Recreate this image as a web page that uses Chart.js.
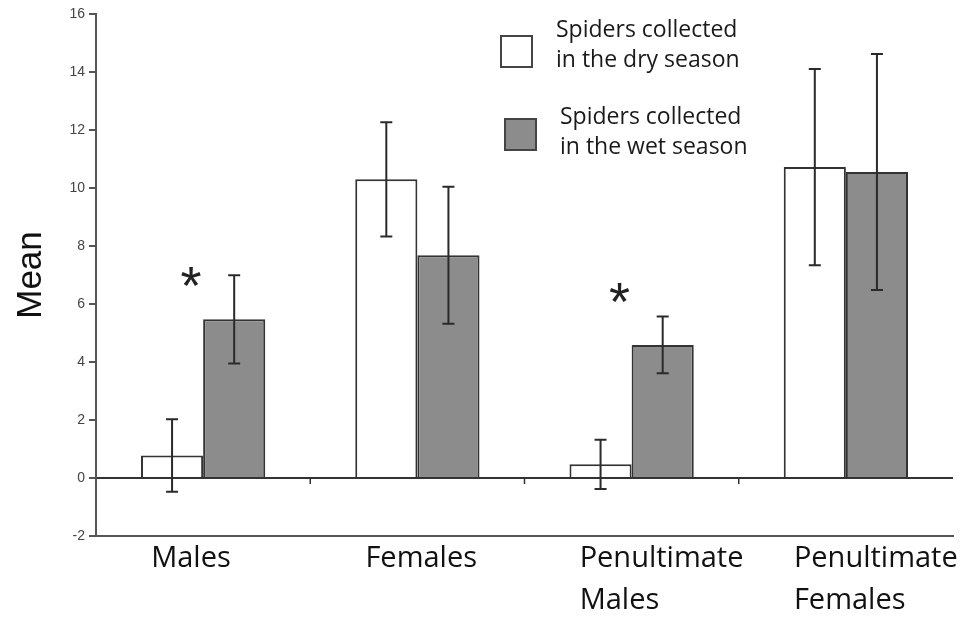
<!DOCTYPE html>
<html>
<head>
<meta charset="utf-8">
<script src="https://cdn.jsdelivr.net/npm/chart.js@4"></script>
<style>
  html, body { margin: 0; padding: 0; background: #fff; }
  canvas { display: block; }
</style>
</head>
<body>
<canvas id="spider_chart" width="965" height="633"></canvas>
<script>
// categories and series
const categories = ['Males', 'Females', ['Penultimate', 'Males'], ['Penultimate', 'Females']];
const dryMeans = [0.78, 10.3, 0.47, 10.72];
const dryErrors = [1.25, 1.97, 0.85, 3.38];
const wetMeans = [5.47, 7.68, 4.59, 10.55];
const wetErrors = [1.52, 2.36, 0.98, 4.07];
// asterisks (significant differences), value = height on the y scale
const sigMarks = [6.85, null, 6.3, null];
const yTicks = [-2, 0, 2, 4, 6, 8, 10, 12, 14, 16];

const dryLabel = ['Spiders collected', 'in the dry season'];
const wetLabel = ['Spiders collected', 'in the wet season'];

const WET_GREY = '#8c8c8c';
const INK = '#333333';

/** error bars drawn from the data arrays, through the y scale */
const errorBars = {
  id: 'errorBars',
  afterDatasetsDraw(chart) {
    const ctx = chart.ctx;
    const y = chart.scales.y;
    const errs = [dryErrors, wetErrors];
    ctx.save();
    ctx.strokeStyle = '#2a2a2a';
    ctx.lineWidth = 2;
    chart.data.datasets.forEach(function(ds, di) {
      const meta = chart.getDatasetMeta(di);
      meta.data.forEach(function(bar, i) {
        const v = ds.data[i], e = errs[di][i];
        const top = y.getPixelForValue(v + e);
        const bot = y.getPixelForValue(v - e);
        ctx.beginPath();
        ctx.moveTo(bar.x, top); ctx.lineTo(bar.x, bot);
        ctx.moveTo(bar.x - 6, top); ctx.lineTo(bar.x + 6, top);
        ctx.moveTo(bar.x - 6, bot); ctx.lineTo(bar.x + 6, bot);
        ctx.stroke();
      });
    });
    ctx.restore();
  }
};

/** small ticks between categories on the zero line, asterisks, legend */
const extras = {
  id: 'extras',
  afterDraw(chart) {
    const ctx = chart.ctx;
    const x = chart.scales.x, y = chart.scales.y;
    const y0 = y.getPixelForValue(0);
    ctx.save();
    ctx.strokeStyle = INK;
    ctx.lineWidth = 1.5;
    for (let i = 1; i < categories.length; i++) {
      const bx = (x.getPixelForValue(i - 1) + x.getPixelForValue(i)) / 2;
      ctx.beginPath();
      ctx.moveTo(bx, y0);
      ctx.lineTo(bx, y0 + 6);
      ctx.stroke();
    }
    ctx.fillStyle = '#222';
    ctx.font = '54px "Liberation Sans"';
    ctx.textAlign = 'center';
    ctx.textBaseline = 'alphabetic';
    sigMarks.forEach(function(v, i) {
      if (v === null) return;
      ctx.fillText('*', x.getPixelForValue(i) - 12, y.getPixelForValue(v) + 25);
    });

    // legend with two-line labels
    const area = chart.chartArea;
    const items = [
      {label: dryLabel, fill: '#ffffff', bx: 405, by: 22, tx: 460, ty: 23},
      {label: wetLabel, fill: WET_GREY, bx: 409, by: 105, tx: 464, ty: 110}
    ];
    ctx.font = '23px "Open Sans"';
    ctx.textAlign = 'left';
    ctx.textBaseline = 'alphabetic';
    items.forEach(function(it) {
      ctx.fillStyle = it.fill;
      ctx.strokeStyle = '#444';
      ctx.lineWidth = 2;
      ctx.fillRect(area.left + it.bx, area.top + it.by, 31, 31);
      ctx.strokeRect(area.left + it.bx, area.top + it.by, 31, 31);
      ctx.fillStyle = '#1a1a1a';
      ctx.fillText(it.label[0], area.left + it.tx, area.top + it.ty);
      ctx.fillText(it.label[1], area.left + it.tx, area.top + it.ty + 30);
    });
    ctx.restore();
  }
};

const config = {
  type: 'bar',
  data: {
    labels: categories,
    datasets: [{
      label: dryLabel.join(' '),
      data: dryMeans,
      backgroundColor: '#ffffff',
      borderColor: INK,
      borderWidth: 2,
      borderSkipped: 'start'
    }, {
      label: wetLabel.join(' '),
      data: wetMeans,
      backgroundColor: WET_GREY,
      borderColor: INK,
      borderWidth: 2,
      borderSkipped: 'start'
    }]
  },
  options: {
    responsive: false,
    animation: false,
    layout: { padding: { top: 14, right: 12, left: 0, bottom: 0 } },
    datasets: { bar: { categoryPercentage: 0.58, barPercentage: 1.0 } },
    plugins: {
      legend: { display: false },
      tooltip: { enabled: false }
    },
    scales: {
      x: {
        grid: { display: false, drawTicks: false },
        border: { display: true, color: '#555', width: 2 },
        afterFit: function(scale) {
          scale.height = 97;
          scale.paddingLeft = 0;
          scale.paddingRight = 0;
        },
        ticks: {
          color: '#111',
          font: { family: '"Open Sans"', size: 29, lineHeight: 1.45 },
          align: 'start',
          labelOffset: -52,
          padding: 2,
          autoSkip: false,
          maxRotation: 0
        }
      },
      y: {
        min: -2,
        max: 16,
        afterFit: function(scale) { scale.width = 96; },
        afterBuildTicks: function(scale) {
          scale.ticks = yTicks.map(function(v) { return {value: v}; });
        },
        border: { display: true, color: '#555', width: 2 },
        grid: {
          drawOnChartArea: true,
          color: function(c) { return c.tick && c.tick.value === 0 ? INK : 'rgba(0,0,0,0)'; },
          lineWidth: 2,
          tickColor: '#555',
          tickLength: 7
        },
        ticks: {
          color: '#444',
          font: { family: '"Liberation Sans"', size: 14 },
          padding: 4
        },
        title: {
          display: true,
          text: 'Mean',
          color: '#111',
          font: { family: '"Liberation Sans"', size: 35 },
          padding: { top: 10, bottom: 0 }
        }
      }
    }
  },
  plugins: [errorBars, extras]
};

new Chart(document.getElementById('spider_chart'), config);
</script>
</body>
</html>
